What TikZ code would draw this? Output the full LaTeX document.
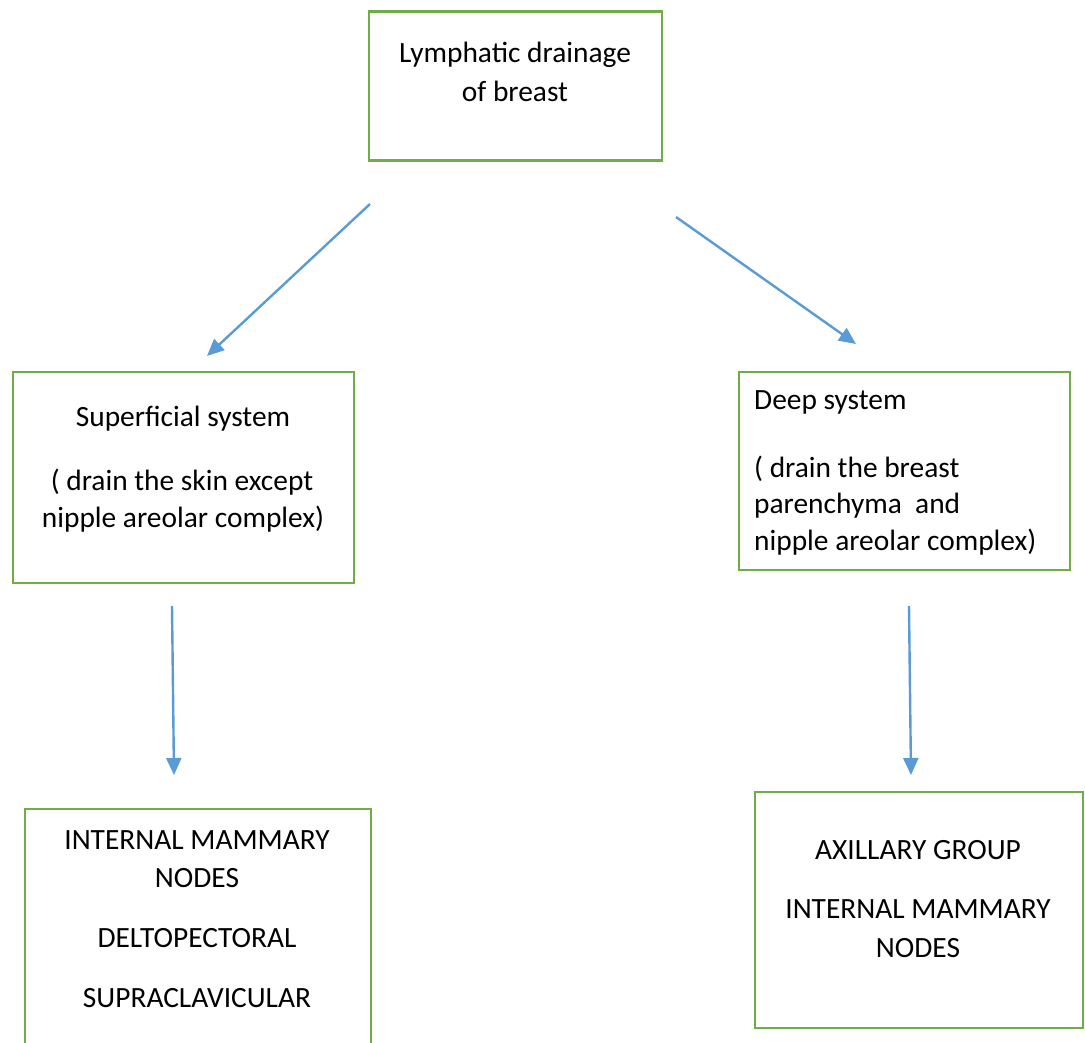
\documentclass[tikz,border=0pt]{standalone}
\usepackage{fontspec}
\setmainfont{Carlito}
\usetikzlibrary{arrows.meta}
\definecolor{boxgreen}{HTML}{70AD47}
\definecolor{arrowblue}{HTML}{5B9BD5}
\begin{document}
\begin{tikzpicture}[x=1pt,y=-1pt,
  box/.style={draw=boxgreen,line width=2.8pt,rectangle,inner sep=0pt},
  txt/.style={inner sep=0pt,anchor=base,font=\fontsize{29.4}{34}\selectfont},
  txtl/.style={inner sep=0pt,anchor=base west,font=\fontsize{29.4}{34}\selectfont},
  conn/.style={draw=arrowblue,line width=2.4pt,-{Triangle[length=17pt,width=15pt]}}]
\useasboundingbox (0,0) rectangle (1085,1043);
\clip (0,0) rectangle (1085,1043);
% boxes
\node[box,minimum width=293pt,minimum height=149pt] (top) at (515.5,86) {};
\node[box,minimum width=341pt,minimum height=211pt] (sup) at (183.5,477.5) {};
\node[box,minimum width=331pt,minimum height=198pt] (deep) at (904.5,471) {};
\node[box,minimum width=346pt,minimum height=260pt] (bl) at (198,939) {};
\node[box,minimum width=328pt,minimum height=236pt] (br) at (919,910) {};
% texts
\node[txt] (t1) at (515,63) {Lymphatic drainage};
\node[txt] (t2) at (515,102) {of breast};
\node[txt] (s1) at (183,426) {Superficial system};
\node[txt] (s2) at (182,490) {( drain the skin except};
\node[txt] (s3) at (183,527) {nipple areolar complex)};
\node[txtl] (d1) at (754,409) {Deep system};
\node[txtl] (d2) at (754,477) {( drain the breast};
\node[txtl] (d3) at (754,513) {parenchyma\ \ and};
\node[txtl] (d4) at (754,550) {nipple areolar complex)};
\node[txt] (b1) at (197,849) {INTERNAL MAMMARY};
\node[txt] (b2) at (197,887) {NODES};
\node[txt] (b3) at (197,947) {DELTOPECTORAL};
\node[txt] (b4) at (197,1007) {SUPRACLAVICULAR};
\node[txt] (r1) at (918,859) {AXILLARY GROUP};
\node[txt] (r2) at (918,918) {INTERNAL MAMMARY};
\node[txt] (r3) at (918,957) {NODES};
% connector end points
\coordinate (a1s) at (370,204);
\coordinate (a1e) at (207,356);
\coordinate (a2s) at (676,217);
\coordinate (a2e) at (856,344);
\coordinate (a3s) at (172,606);
\coordinate (a3e) at (174,775);
\coordinate (a4s) at (909,606);
\coordinate (a4e) at (911,775);
\draw[conn] (a1s) -- (a1e);
\draw[conn] (a2s) -- (a2e);
\draw[conn] (a3s) -- (a3e);
\draw[conn] (a4s) -- (a4e);
\end{tikzpicture}
\end{document}
